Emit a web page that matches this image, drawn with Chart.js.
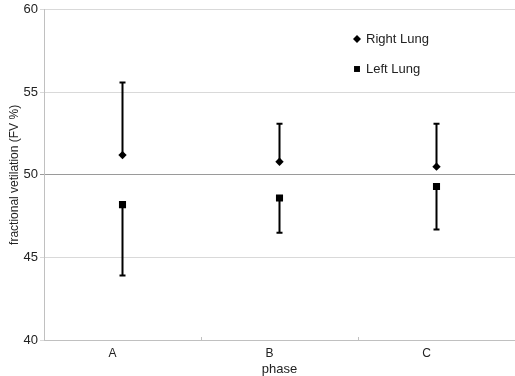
<!DOCTYPE html>
<html>
<head>
<meta charset="utf-8">
<script src="https://cdn.jsdelivr.net/npm/chart.js@4/dist/chart.umd.min.js"></script>
<style>
  html, body { margin: 0; padding: 0; background: #fff; }
  #wrap { width: 515px; height: 376px; }
</style>
</head>
<body>
<div id="wrap"><canvas id="fv-chart"></canvas></div>
<script>
// Data
const phases = ["A", "B", "C"];
const right_lung = [51.2, 50.8, 50.5];
const right_lung_err_up = [4.4, 2.3, 2.6]; // one-sided, upward
const left_lung = [48.2, 48.6, 49.3];
const left_lung_err_down = [4.3, 2.1, 2.6]; // one-sided, downward
const y_ticks = [40, 45, 50, 55, 60];

const font_family = "'Liberation Sans', Arial, sans-serif";
const text_color = "#222";

// error bars, drawn under the points
const errorBars = {
  id: "errorBars",
  beforeDatasetsDraw(chart) {
    const ctx = chart.ctx;
    const x = chart.scales.x;
    const y = chart.scales.y;
    ctx.save();
    ctx.strokeStyle = "#000";
    ctx.lineWidth = 2;
    const cap = 3;
    function bar(i, from, to) {
      const px = x.getPixelForValue(i);
      const p0 = y.getPixelForValue(from);
      const p1 = y.getPixelForValue(to);
      ctx.beginPath();
      ctx.moveTo(px, p0);
      ctx.lineTo(px, p1);
      ctx.moveTo(px - cap, p1);
      ctx.lineTo(px + cap, p1);
      ctx.stroke();
    }
    phases.forEach((p, i) => {
      bar(i, right_lung[i], right_lung[i] + right_lung_err_up[i]);
      bar(i, left_lung[i], left_lung[i] - left_lung_err_down[i]);
    });
    ctx.restore();
  },
};

// small inward tick marks between the categories
const innerTicks = {
  id: "innerTicks",
  afterDraw(chart) {
    const ctx = chart.ctx;
    const x = chart.scales.x;
    const bottom = chart.chartArea.bottom;
    ctx.save();
    ctx.strokeStyle = "#c0c0c0";
    ctx.lineWidth = 1;
    for (let i = 0; i < phases.length - 1; i++) {
      const px = Math.round((x.getPixelForValue(i) + x.getPixelForValue(i + 1)) / 2) + 0.5;
      ctx.beginPath();
      ctx.moveTo(px, bottom);
      ctx.lineTo(px, bottom - 3);
      ctx.stroke();
    }
    ctx.restore();
  },
};

// legend in the upper right of the plot
const cornerLegend = {
  id: "cornerLegend",
  afterDraw(chart) {
    const ctx = chart.ctx;
    ctx.save();
    ctx.font = "13px " + font_family;
    ctx.textBaseline = "middle";
    const lx = 357;
    const rows = [39, 69];
    const sizes = [4, 4.2];
    chart.data.datasets.forEach((ds, i) => {
      ctx.fillStyle = "#000";
      ctx.strokeStyle = "#000";
      Chart.helpers.drawPoint(
        ctx,
        { pointStyle: ds.pointStyle, radius: sizes[i], borderWidth: 0 },
        lx,
        rows[i]
      );
      ctx.fillStyle = text_color;
      ctx.fillText(ds.label, lx + 9, rows[i]);
    });
    ctx.restore();
  },
};

const ctx = document.getElementById("fv-chart").getContext("2d");

new Chart(ctx, {
  type: "line",
  data: {
    labels: phases,
    datasets: [
      {
        label: "Right Lung",
        data: right_lung,
        showLine: false,
        pointStyle: "rectRot",
        pointRadius: 4.2,
        backgroundColor: "#000",
        borderColor: "#000",
        borderWidth: 0,
      },
      {
        label: "Left Lung",
        data: left_lung,
        showLine: false,
        pointStyle: "rect",
        pointRadius: 5,
        backgroundColor: "#000",
        borderColor: "#000",
        borderWidth: 0,
      },
    ],
  },
  options: {
    responsive: true,
    maintainAspectRatio: false,
    animation: false,
    layout: { autoPadding: false, padding: { top: 4, right: 0, left: 0, bottom: 0 } },
    plugins: {
      legend: { display: false },
      tooltip: { enabled: false },
    },
    scales: {
      x: {
        offset: true,
        afterFit(scale) {
          scale.height = 36;
        },
        grid: {
          offset: true,
          drawOnChartArea: false,
          drawTicks: false,
        },
        border: { color: "#c0c0c0", width: 1 },
        ticks: {
          color: text_color,
          font: { family: font_family, size: 12 },
          padding: 6,
          labelOffset: -10,
        },
        title: {
          display: true,
          text: "phase",
          color: text_color,
          font: { family: font_family, size: 13, lineHeight: 1 },
          padding: { top: 0, bottom: 0 },
        },
      },
      y: {
        min: 40,
        max: 60,
        afterFit(scale) {
          scale.width = 44;
        },
        afterBuildTicks(axis) {
          axis.ticks = y_ticks.map((v) => ({ value: v }));
        },
        grid: {
          color: (c) => (c.tick && c.tick.value === 50 ? "#9a9a9a" : "#d9d9d9"),
          tickLength: 4,
        },
        border: { color: "#c0c0c0", width: 1 },
        ticks: {
          color: text_color,
          font: { family: font_family, size: 13 },
          padding: 2,
        },
        title: {
          display: true,
          text: "fractional vetilation (FV %)",
          color: text_color,
          font: { family: font_family, size: 12 },
          padding: { top: 7, bottom: 0 },
        },
      },
    },
  },
  plugins: [errorBars, innerTicks, cornerLegend],
});
</script>
</body>
</html>
